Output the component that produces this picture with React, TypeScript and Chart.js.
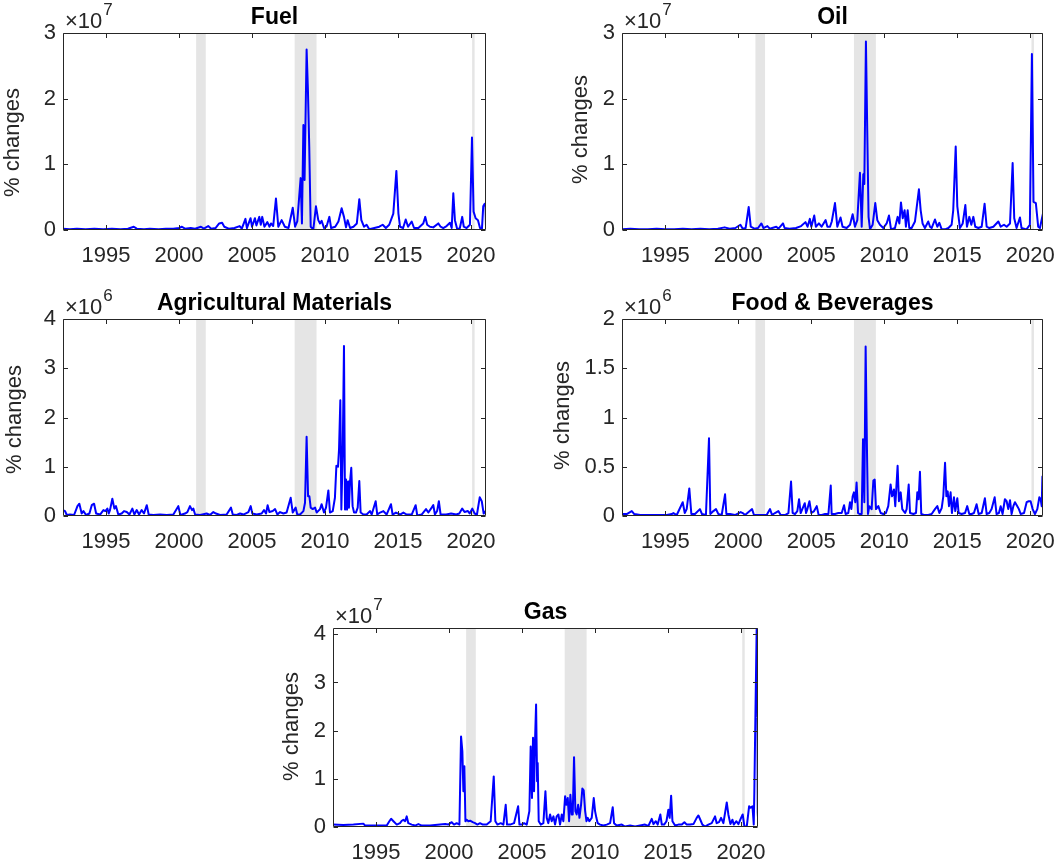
import React, { useEffect, useRef } from "react";
import { Chart, registerables } from "chart.js";

Chart.register(...registerables);

// ---------------- DATA ----------------
const xTickValues = [1995, 2000, 2005, 2010, 2015, 2020];
const recessions: [number, number][] = [
  [2001.17, 2001.83],
  [2007.92, 2009.42],
  [2020.08, 2020.25],
];

// Fuel, values in units of 10^7
const fuelSeries: [number, number][] = [
  [1992.05, 0.02], [1992.5, 0.01], [1993.0, 0.02], [1993.6, 0.01], [1994.2, 0.02], [1994.8, 0.01],
  [1995.4, 0.02], [1996.0, 0.01], [1996.5, 0.02], [1996.9, 0.05], [1997.1, 0.02], [1997.6, 0.01],
  [1998.0, 0.02], [1998.6, 0.01], [1999.1, 0.02], [1999.6, 0.02], [2000.0, 0.03], [2000.2, 0.05],
  [2000.4, 0.02], [2000.8, 0.03], [2001.1, 0.02], [2001.5, 0.05], [2001.7, 0.02], [2002.0, 0.06],
  [2002.2, 0.02], [2002.5, 0.03], [2002.75, 0.1], [2002.95, 0.11], [2003.1, 0.05], [2003.4, 0.02],
  [2003.8, 0.03], [2004.15, 0.06], [2004.3, 0.02], [2004.55, 0.17], [2004.65, 0.03], [2004.9, 0.18],
  [2005.0, 0.05], [2005.2, 0.18], [2005.3, 0.07], [2005.5, 0.2], [2005.6, 0.08], [2005.7, 0.2],
  [2005.85, 0.05], [2006.05, 0.12], [2006.2, 0.05], [2006.3, 0.1], [2006.45, 0.06], [2006.64, 0.48],
  [2006.8, 0.05], [2007.03, 0.15], [2007.25, 0.05], [2007.5, 0.03], [2007.79, 0.34], [2007.95, 0.05],
  [2008.1, 0.13], [2008.33, 0.79], [2008.42, 0.1], [2008.52, 1.6], [2008.6, 0.76], [2008.74, 2.75],
  [2008.83, 2.13], [2008.92, 1.27], [2009.02, 0.05], [2009.2, 0.01], [2009.38, 0.36], [2009.54, 0.15],
  [2009.66, 0.1], [2009.77, 0.14], [2009.93, 0.03], [2010.1, 0.05], [2010.3, 0.2], [2010.42, 0.03],
  [2010.7, 0.05], [2010.92, 0.13], [2011.14, 0.33], [2011.3, 0.2], [2011.44, 0.04], [2011.55, 0.15],
  [2011.72, 0.03], [2011.95, 0.05], [2012.18, 0.1], [2012.35, 0.47], [2012.49, 0.15], [2012.67, 0.05],
  [2012.85, 0.08], [2013.03, 0.01], [2013.38, 0.03], [2013.72, 0.05], [2013.95, 0.08], [2014.17, 0.03],
  [2014.4, 0.08], [2014.68, 0.25], [2014.89, 0.9], [2015.03, 0.25], [2015.14, 0.05], [2015.35, 0.03],
  [2015.53, 0.16], [2015.69, 0.05], [2015.94, 0.13], [2016.1, 0.03], [2016.4, 0.03], [2016.73, 0.1],
  [2016.87, 0.2], [2017.0, 0.08], [2017.19, 0.05], [2017.42, 0.04], [2017.76, 0.1], [2017.92, 0.05],
  [2018.1, 0.03], [2018.33, 0.06], [2018.56, 0.11], [2018.68, 0.03], [2018.79, 0.56], [2018.9, 0.15],
  [2019.06, 0.01], [2019.24, 0.03], [2019.4, 0.2], [2019.51, 0.05], [2019.7, 0.03], [2019.93, 0.08],
  [2020.07, 1.41], [2020.18, 0.28], [2020.32, 0.18], [2020.48, 0.15], [2020.62, 0.03], [2020.75, 0.01],
  [2020.84, 0.36], [2020.94, 0.4], [2021.0, 0.35], [2021.03, 0.05],
];

// Oil, values in units of 10^7
const oilSeries: [number, number][] = [
  [1992.03, 0.01], [1992.6, 0.02], [1993.2, 0.01], [1993.8, 0.01], [1994.4, 0.02], [1995.0, 0.01],
  [1995.6, 0.01], [1996.2, 0.02], [1996.8, 0.01], [1997.4, 0.02], [1998.0, 0.01], [1998.6, 0.02],
  [1999.06, 0.04], [1999.4, 0.02], [1999.8, 0.03], [2000.14, 0.08], [2000.3, 0.02], [2000.5, 0.03],
  [2000.71, 0.35], [2000.85, 0.05], [2001.1, 0.02], [2001.35, 0.03], [2001.58, 0.1], [2001.72, 0.03],
  [2001.99, 0.06], [2002.15, 0.02], [2002.6, 0.05], [2002.75, 0.02], [2003.06, 0.1], [2003.17, 0.03],
  [2003.5, 0.02], [2003.95, 0.03], [2004.3, 0.06], [2004.6, 0.12], [2004.74, 0.05], [2004.9, 0.17],
  [2005.0, 0.05], [2005.2, 0.22], [2005.31, 0.05], [2005.52, 0.1], [2005.7, 0.05], [2005.98, 0.15],
  [2006.1, 0.05], [2006.28, 0.05], [2006.4, 0.13], [2006.62, 0.41], [2006.78, 0.05], [2007.0, 0.19],
  [2007.14, 0.05], [2007.42, 0.03], [2007.65, 0.08], [2007.83, 0.24], [2007.99, 0.05], [2008.15, 0.15],
  [2008.33, 0.87], [2008.45, 0.05], [2008.56, 0.85], [2008.63, 0.7], [2008.74, 2.87], [2008.83, 1.52],
  [2008.92, 0.2], [2009.02, 0.01], [2009.2, 0.08], [2009.38, 0.41], [2009.52, 0.15], [2009.7, 0.08],
  [2009.93, 0.03], [2010.16, 0.1], [2010.32, 0.22], [2010.46, 0.01], [2010.73, 0.03], [2010.91, 0.2],
  [2011.03, 0.1], [2011.14, 0.42], [2011.26, 0.18], [2011.39, 0.3], [2011.48, 0.05], [2011.6, 0.3],
  [2011.71, 0.03], [2011.87, 0.03], [2012.1, 0.13], [2012.37, 0.62], [2012.49, 0.3], [2012.62, 0.1],
  [2012.78, 0.03], [2013.01, 0.13], [2013.13, 0.05], [2013.24, 0.03], [2013.47, 0.16], [2013.63, 0.05],
  [2013.77, 0.11], [2013.93, 0.01], [2014.16, 0.01], [2014.39, 0.03], [2014.61, 0.08], [2014.72, 0.3],
  [2014.89, 1.27], [2015.0, 0.36], [2015.18, 0.03], [2015.37, 0.1], [2015.55, 0.38], [2015.66, 0.05],
  [2015.82, 0.2], [2015.96, 0.08], [2016.1, 0.2], [2016.23, 0.05], [2016.44, 0.03], [2016.67, 0.05],
  [2016.87, 0.4], [2017.01, 0.05], [2017.19, 0.03], [2017.47, 0.05], [2017.81, 0.13], [2017.97, 0.05],
  [2018.2, 0.08], [2018.38, 0.05], [2018.61, 0.1], [2018.79, 1.02], [2018.9, 0.18], [2019.06, 0.03],
  [2019.29, 0.19], [2019.4, 0.03], [2019.74, 0.01], [2019.97, 0.08], [2020.11, 2.68], [2020.22, 0.43],
  [2020.38, 0.41], [2020.54, 0.05], [2020.66, 0.03], [2020.8, 0.18], [2020.87, 0.25],
];

// Agricultural Materials, values in units of 10^6
const agriSeries: [number, number][] = [
  [1992.05, 0.12], [1992.19, 0.1], [1992.31, 0.02], [1992.53, 0.03], [1992.81, 0.02], [1993.04, 0.2],
  [1993.17, 0.25], [1993.33, 0.05], [1993.45, 0.1], [1993.63, 0.02], [1993.86, 0.05], [1994.02, 0.22],
  [1994.18, 0.25], [1994.32, 0.05], [1994.59, 0.03], [1994.82, 0.12], [1994.95, 0.1], [1995.09, 0.15],
  [1995.18, 0.05], [1995.27, 0.12], [1995.43, 0.35], [1995.57, 0.15], [1995.68, 0.2], [1995.84, 0.03],
  [1996.07, 0.05], [1996.23, 0.1], [1996.42, 0.08], [1996.6, 0.03], [1996.8, 0.15], [1996.94, 0.03],
  [1997.1, 0.12], [1997.26, 0.03], [1997.44, 0.12], [1997.6, 0.05], [1997.79, 0.22], [1997.92, 0.03],
  [1998.24, 0.02], [1998.7, 0.03], [1999.16, 0.02], [1999.61, 0.03], [1999.95, 0.2], [2000.09, 0.02],
  [2000.41, 0.05], [2000.57, 0.08], [2000.75, 0.2], [2000.89, 0.12], [2000.98, 0.15], [2001.1, 0.03],
  [2001.44, 0.02], [2001.89, 0.05], [2002.12, 0.02], [2002.35, 0.08], [2002.53, 0.05], [2002.81, 0.02],
  [2003.26, 0.03], [2003.56, 0.17], [2003.68, 0.03], [2003.95, 0.02], [2004.18, 0.05], [2004.41, 0.03],
  [2004.75, 0.08], [2004.91, 0.2], [2005.02, 0.05], [2005.32, 0.03], [2005.66, 0.05], [2005.82, 0.12],
  [2005.96, 0.05], [2006.07, 0.22], [2006.19, 0.08], [2006.42, 0.1], [2006.58, 0.14], [2006.74, 0.03],
  [2006.92, 0.08], [2007.15, 0.05], [2007.37, 0.07], [2007.65, 0.37], [2007.79, 0.07], [2007.99, 0.17],
  [2008.1, 0.03], [2008.29, 0.03], [2008.52, 0.1], [2008.63, 0.27], [2008.74, 1.61], [2008.84, 0.4],
  [2008.93, 0.4], [2009.02, 0.17], [2009.16, 0.14], [2009.32, 0.17], [2009.43, 0.07], [2009.66, 0.14],
  [2009.77, 0.24], [2009.93, 0.07], [2010.07, 0.17], [2010.23, 0.52], [2010.34, 0.07], [2010.53, 0.1],
  [2010.68, 0.37], [2010.78, 1.02], [2010.89, 1.0], [2010.96, 1.35], [2011.05, 2.35], [2011.12, 0.13],
  [2011.21, 1.22], [2011.3, 3.45], [2011.37, 0.13], [2011.44, 0.74], [2011.51, 0.13], [2011.58, 0.7],
  [2011.64, 0.17], [2011.71, 0.68], [2011.8, 0.98], [2011.89, 0.2], [2011.99, 0.07], [2012.12, 0.07],
  [2012.24, 0.17], [2012.35, 0.71], [2012.44, 0.07], [2012.63, 0.03], [2012.85, 0.03], [2013.08, 0.1],
  [2013.2, 0.03], [2013.47, 0.3], [2013.58, 0.03], [2013.77, 0.07], [2014.0, 0.1], [2014.22, 0.03],
  [2014.52, 0.24], [2014.63, 0.03], [2014.86, 0.07], [2015.14, 0.03], [2015.37, 0.07], [2015.59, 0.03],
  [2015.94, 0.03], [2016.21, 0.22], [2016.32, 0.01], [2016.62, 0.03], [2016.92, 0.14], [2017.08, 0.07],
  [2017.31, 0.17], [2017.42, 0.22], [2017.53, 0.03], [2017.68, 0.1], [2017.8, 0.3], [2017.92, 0.03],
  [2018.3, 0.03], [2018.64, 0.05], [2018.99, 0.03], [2019.2, 0.05], [2019.4, 0.15], [2019.56, 0.08],
  [2019.79, 0.1], [2019.91, 0.05], [2020.09, 0.15], [2020.25, 0.05], [2020.41, 0.03], [2020.6, 0.38],
  [2020.74, 0.3], [2020.87, 0.05], [2021.0, 0.1], [2021.03, 0.1],
];

// Food & Beverages, values in units of 10^6
const foodSeries: [number, number][] = [
  [1992.03, 0.02], [1992.35, 0.02], [1992.7, 0.05], [1992.87, 0.02], [1993.28, 0.01], [1993.97, 0.01],
  [1994.65, 0.01], [1995.1, 0.01], [1995.44, 0.02], [1995.55, 0.03], [1995.78, 0.01], [1996.19, 0.14],
  [1996.33, 0.03], [1996.46, 0.07], [1996.64, 0.28], [1996.78, 0.02], [1997.03, 0.02], [1997.37, 0.07],
  [1997.51, 0.02], [1997.78, 0.01], [1997.99, 0.79], [1998.08, 0.02], [1998.29, 0.05], [1998.47, 0.07],
  [1998.63, 0.02], [1998.86, 0.01], [1999.09, 0.22], [1999.18, 0.02], [1999.43, 0.02], [1999.77, 0.01],
  [2000.16, 0.04], [2000.3, 0.03], [2000.46, 0.01], [2000.94, 0.07], [2001.07, 0.01], [2001.49, 0.01],
  [2001.94, 0.01], [2002.17, 0.07], [2002.31, 0.01], [2002.51, 0.03], [2002.74, 0.05], [2002.9, 0.01],
  [2003.2, 0.01], [2003.43, 0.03], [2003.61, 0.35], [2003.72, 0.03], [2003.88, 0.02], [2004.04, 0.05],
  [2004.16, 0.17], [2004.27, 0.03], [2004.41, 0.08], [2004.55, 0.13], [2004.64, 0.03], [2004.73, 0.07],
  [2004.87, 0.15], [2005.0, 0.03], [2005.19, 0.05], [2005.37, 0.1], [2005.5, 0.01], [2005.71, 0.01],
  [2005.94, 0.02], [2006.17, 0.02], [2006.33, 0.31], [2006.39, 0.02], [2006.62, 0.02], [2006.85, 0.03],
  [2007.08, 0.03], [2007.24, 0.11], [2007.35, 0.02], [2007.53, 0.03], [2007.65, 0.14], [2007.74, 0.07],
  [2007.83, 0.2], [2007.92, 0.24], [2008.01, 0.14], [2008.1, 0.34], [2008.2, 0.03], [2008.33, 0.02],
  [2008.45, 0.02], [2008.54, 0.78], [2008.63, 0.14], [2008.72, 1.72], [2008.81, 0.68], [2008.88, 0.02],
  [2008.97, 0.1], [2009.13, 0.07], [2009.25, 0.36], [2009.34, 0.37], [2009.43, 0.07], [2009.59, 0.1],
  [2009.75, 0.03], [2009.93, 0.02], [2010.11, 0.03], [2010.27, 0.1], [2010.43, 0.32], [2010.53, 0.2],
  [2010.66, 0.27], [2010.75, 0.1], [2010.91, 0.51], [2011.0, 0.15], [2011.12, 0.24], [2011.23, 0.07],
  [2011.42, 0.03], [2011.53, 0.07], [2011.67, 0.32], [2011.76, 0.03], [2011.99, 0.02], [2012.17, 0.03],
  [2012.26, 0.24], [2012.35, 0.17], [2012.44, 0.45], [2012.53, 0.02], [2012.72, 0.01], [2013.01, 0.01],
  [2013.24, 0.02], [2013.47, 0.07], [2013.63, 0.1], [2013.77, 0.03], [2013.93, 0.08], [2014.04, 0.2],
  [2014.16, 0.54], [2014.25, 0.2], [2014.34, 0.25], [2014.43, 0.1], [2014.54, 0.24], [2014.63, 0.03],
  [2014.77, 0.19], [2014.86, 0.05], [2015.0, 0.18], [2015.09, 0.03], [2015.3, 0.02], [2015.53, 0.03],
  [2015.68, 0.1], [2015.82, 0.02], [2015.98, 0.02], [2016.14, 0.03], [2016.32, 0.12], [2016.46, 0.02],
  [2016.67, 0.03], [2016.89, 0.18], [2017.01, 0.02], [2017.19, 0.03], [2017.35, 0.07], [2017.56, 0.19],
  [2017.69, 0.02], [2017.85, 0.03], [2017.97, 0.1], [2018.1, 0.02], [2018.26, 0.17], [2018.38, 0.15],
  [2018.49, 0.07], [2018.61, 0.16], [2018.72, 0.02], [2018.84, 0.1], [2018.95, 0.14], [2019.11, 0.1],
  [2019.22, 0.07], [2019.34, 0.02], [2019.57, 0.03], [2019.75, 0.14], [2019.89, 0.15], [2020.02, 0.15],
  [2020.16, 0.07], [2020.32, 0.02], [2020.48, 0.07], [2020.62, 0.19], [2020.71, 0.17], [2020.78, 0.1],
  [2020.83, 0.4], [2020.87, 0.1],
];

// Gas, values in units of 10^7
const gasSeries: [number, number][] = [
  [1992.05, 0.05], [1992.76, 0.04], [1993.45, 0.05], [1994.13, 0.07], [1994.25, 0.03], [1995.05, 0.03],
  [1995.73, 0.03], [1995.91, 0.12], [1996.03, 0.17], [1996.19, 0.12], [1996.42, 0.05], [1996.64, 0.08],
  [1996.76, 0.13], [1996.87, 0.15], [1996.99, 0.12], [1997.1, 0.22], [1997.21, 0.08], [1997.44, 0.05],
  [1997.67, 0.03], [1997.9, 0.06], [1998.13, 0.03], [1998.7, 0.03], [1999.38, 0.05], [1999.73, 0.06],
  [1999.95, 0.05], [2000.18, 0.1], [2000.34, 0.05], [2000.52, 0.08], [2000.71, 0.05], [2000.82, 1.88],
  [2000.91, 1.57], [2000.98, 0.74], [2001.05, 1.26], [2001.12, 0.12], [2001.21, 0.15], [2001.32, 0.12],
  [2001.44, 0.13], [2001.62, 0.1], [2001.78, 0.08], [2001.94, 0.05], [2002.12, 0.08], [2002.31, 0.05],
  [2002.58, 0.05], [2002.85, 0.12], [2003.06, 1.05], [2003.17, 0.12], [2003.31, 0.05], [2003.54, 0.08],
  [2003.72, 0.05], [2003.88, 0.46], [2003.97, 0.05], [2004.18, 0.05], [2004.45, 0.08], [2004.73, 0.43],
  [2004.82, 0.05], [2004.98, 0.05], [2005.14, 0.08], [2005.32, 0.05], [2005.5, 0.33], [2005.59, 1.67],
  [2005.68, 0.6], [2005.75, 1.85], [2005.82, 0.74], [2005.89, 1.81], [2005.96, 2.54], [2006.03, 0.95],
  [2006.07, 1.33], [2006.14, 0.12], [2006.28, 0.05], [2006.46, 0.08], [2006.6, 0.74], [2006.69, 0.19],
  [2006.8, 0.08], [2006.92, 0.26], [2007.03, 0.12], [2007.15, 0.22], [2007.26, 0.05], [2007.37, 0.22],
  [2007.49, 0.26], [2007.6, 0.05], [2007.72, 0.26], [2007.83, 0.12], [2007.95, 0.64], [2008.04, 0.46],
  [2008.13, 0.6], [2008.22, 0.12], [2008.31, 0.67], [2008.4, 0.26], [2008.47, 0.26], [2008.56, 1.45],
  [2008.65, 0.33], [2008.74, 0.26], [2008.84, 0.46], [2008.93, 0.19], [2009.04, 0.46], [2009.13, 0.8],
  [2009.22, 0.76], [2009.32, 0.33], [2009.41, 0.12], [2009.5, 0.19], [2009.61, 0.12], [2009.77, 0.19],
  [2009.91, 0.6], [2010.0, 0.33], [2010.09, 0.19], [2010.18, 0.08], [2010.34, 0.05], [2010.57, 0.03],
  [2010.8, 0.05], [2011.03, 0.08], [2011.21, 0.41], [2011.3, 0.08], [2011.48, 0.03], [2011.83, 0.05],
  [2012.05, 0.01], [2012.4, 0.03], [2012.74, 0.01], [2013.08, 0.03], [2013.42, 0.05], [2013.65, 0.02],
  [2013.88, 0.17], [2014.0, 0.06], [2014.16, 0.12], [2014.29, 0.05], [2014.47, 0.26], [2014.57, 0.05],
  [2014.73, 0.05], [2014.89, 0.12], [2015.02, 0.36], [2015.11, 0.19], [2015.21, 0.65], [2015.3, 0.12],
  [2015.48, 0.03], [2015.71, 0.05], [2015.94, 0.05], [2016.12, 0.1], [2016.28, 0.05], [2016.51, 0.05],
  [2016.74, 0.06], [2016.96, 0.19], [2017.08, 0.24], [2017.21, 0.15], [2017.35, 0.05], [2017.53, 0.01],
  [2017.76, 0.05], [2017.99, 0.08], [2018.22, 0.22], [2018.33, 0.08], [2018.49, 0.1], [2018.63, 0.19],
  [2018.79, 0.08], [2019.02, 0.51], [2019.13, 0.26], [2019.27, 0.06], [2019.41, 0.15], [2019.5, 0.05],
  [2019.68, 0.12], [2019.82, 0.06], [2020.0, 0.19], [2020.11, 0.26], [2020.23, 0.01], [2020.39, 0.01],
  [2020.55, 0.43], [2020.64, 0.4], [2020.78, 0.43], [2020.87, 0.05], [2020.91, 0.74], [2020.98, 2.26],
  [2021.07, 4.13], [2021.11, 4.0], [2021.14, 0.3], [2021.16, 0.2],
];

const fuelYTicks = [0, 1, 2, 3];
const fuelYLabels = ["0", "1", "2", "3"];
const oilYTicks = [0, 1, 2, 3];
const oilYLabels = ["0", "1", "2", "3"];
const agriYTicks = [0, 1, 2, 3, 4];
const agriYLabels = ["0", "1", "2", "3", "4"];
const foodYTicks = [0, 0.5, 1, 1.5, 2];
const foodYLabels = ["0", "0.5", "1", "1.5", "2"];
const gasYTicks = [0, 1, 2, 3, 4];
const gasYLabels = ["0", "1", "2", "3", "4"];

const titles = ["Fuel", "Oil", "Agricultural Materials", "Food & Beverages", "Gas"];
const exponents = ["7", "7", "6", "6", "7"];
const yLabelText = "% changes";

// ---------------- PANELS ----------------
type Spec = {
  title: string;
  exponent: string;
  series: [number, number][];
  yTicks: number[];
  yLabels: string[];
  yMax: number;
  xMin: number;
  xMax: number;
};

const specs: Spec[] = [
  { title: titles[0], exponent: exponents[0], series: fuelSeries, yTicks: fuelYTicks, yLabels: fuelYLabels, yMax: 3, xMin: 1992.05, xMax: 2021.03 },
  { title: titles[1], exponent: exponents[1], series: oilSeries, yTicks: oilYTicks, yLabels: oilYLabels, yMax: 3, xMin: 1992.03, xMax: 2020.87 },
  { title: titles[2], exponent: exponents[2], series: agriSeries, yTicks: agriYTicks, yLabels: agriYLabels, yMax: 4, xMin: 1992.05, xMax: 2021.03 },
  { title: titles[3], exponent: exponents[3], series: foodSeries, yTicks: foodYTicks, yLabels: foodYLabels, yMax: 2, xMin: 1992.03, xMax: 2020.87 },
  { title: titles[4], exponent: exponents[4], series: gasSeries, yTicks: gasYTicks, yLabels: gasYLabels, yMax: 4.13, xMin: 1992.05, xMax: 2021.16 },
];

// plot-area boxes in page pixels, and y-label offsets relative to the plot
type Box = { left: number; top: number; width: number; height: number; ylDx: number; ylDy: number };
const boxes: Box[] = [
  { left: 63, top: 33, width: 423, height: 197, ylDx: -50, ylDy: 11 },
  { left: 622, top: 33, width: 421, height: 197, ylDx: -41, ylDy: -2 },
  { left: 63, top: 319, width: 423, height: 197, ylDx: -48, ylDy: 2 },
  { left: 622, top: 319, width: 421, height: 197, ylDx: -59, ylDy: -2 },
  { left: 333, top: 628, width: 425, height: 199, ylDx: -41, ylDy: -1 },
];

const FONT = "'Liberation Sans', Arial, Helvetica, sans-serif";
const AXIS_COLOR = "#262626";
const TICK_SIZE = 22;
const LABEL_SIZE = 22;
const TITLE_SIZE = 23;

const M_LEFT = 72;
const M_TOP = 36;
const M_RIGHT = 30;
const M_BOTTOM = 42;

function makeDecor(spec: Spec, box: Box) {
  return {
    id: "matlabDecor",
    beforeDatasetsDraw(chart: any) {
      const { ctx, chartArea } = chart;
      const xs = chart.scales.x;
      ctx.save();
      ctx.fillStyle = "#e5e5e5";
      for (const [s, e] of recessions) {
        const x1 = Math.max(chartArea.left, xs.getPixelForValue(s));
        const x2 = Math.min(chartArea.right, xs.getPixelForValue(e));
        if (x2 > x1) ctx.fillRect(x1, chartArea.top, x2 - x1, chartArea.bottom - chartArea.top);
      }
      ctx.restore();
    },
    afterDatasetsDraw(chart: any) {
      const { ctx, chartArea } = chart;
      const xs = chart.scales.x;
      const ys = chart.scales.y;
      const L = Math.round(chartArea.left) + 0.5;
      const R = Math.round(chartArea.right) - 0.5;
      const T = Math.round(chartArea.top) + 0.5;
      const B = Math.round(chartArea.bottom) - 0.5;
      ctx.save();
      ctx.strokeStyle = AXIS_COLOR;
      ctx.lineWidth = 1;
      ctx.beginPath();
      ctx.rect(L, T, R - L, B - T);
      const tl = 4.5;
      for (const v of xTickValues) {
        const px = Math.round(xs.getPixelForValue(v)) + 0.5;
        ctx.moveTo(px, B);
        ctx.lineTo(px, B - tl);
        ctx.moveTo(px, T);
        ctx.lineTo(px, T + tl);
      }
      for (const v of spec.yTicks) {
        const py = Math.round(ys.getPixelForValue(v)) + 0.5;
        ctx.moveTo(L, py);
        ctx.lineTo(L + tl, py);
        ctx.moveTo(R, py);
        ctx.lineTo(R - tl, py);
      }
      ctx.stroke();
      ctx.restore();
    },
    afterDraw(chart: any) {
      const { ctx, chartArea } = chart;
      ctx.save();
      // title
      ctx.fillStyle = "#000";
      ctx.font = `bold ${TITLE_SIZE}px ${FONT}`;
      ctx.textAlign = "center";
      ctx.textBaseline = "alphabetic";
      ctx.fillText(spec.title, (chartArea.left + chartArea.right) / 2, chartArea.top - 9.5);
      // exponent
      ctx.fillStyle = AXIS_COLOR;
      ctx.textAlign = "left";
      ctx.font = `${22}px ${FONT}`;
      const base = "\u00d710";
      const x0 = chartArea.left + 2;
      ctx.fillText(base, x0, chartArea.top - 5);
      const w = ctx.measureText(base).width;
      ctx.font = `${17}px ${FONT}`;
      ctx.fillText(spec.exponent, x0 + w + 1, chartArea.top - 18);
      // y label
      ctx.font = `${LABEL_SIZE}px ${FONT}`;
      ctx.textAlign = "center";
      ctx.textBaseline = "middle";
      ctx.translate(chartArea.left + box.ylDx, (chartArea.top + chartArea.bottom) / 2 + box.ylDy);
      ctx.rotate(-Math.PI / 2);
      ctx.fillText(yLabelText, 0, 0);
      ctx.restore();
    },
  };
}

function Panel({ spec, box }: { spec: Spec; box: Box }) {
  const ref = useRef<HTMLCanvasElement | null>(null);
  const mLeft = Math.min(M_LEFT, box.left);
  const mTop = Math.min(M_TOP, box.top);
  const cw = box.width + mLeft + M_RIGHT;
  const ch = box.height + mTop + M_BOTTOM;

  useEffect(() => {
    if (!ref.current) return;
    const chart = new Chart(ref.current, {
      type: "line",
      data: {
        datasets: [
          {
            data: spec.series.map(([x, y]) => ({ x, y })),
            borderColor: "#0000ff",
            borderWidth: 2,
            borderJoinStyle: "round",
            borderCapStyle: "round",
            pointRadius: 0,
            pointHoverRadius: 0,
            tension: 0,
            fill: false,
          } as any,
        ],
      },
      options: {
        animation: false,
        responsive: false,
        devicePixelRatio: 1,
        events: [],
        layout: { padding: { left: 0, top: mTop, right: M_RIGHT, bottom: 0 } },
        plugins: { legend: { display: false }, tooltip: { enabled: false }, title: { display: false } },
        scales: {
          x: {
            type: "linear",
            position: "bottom",
            min: spec.xMin,
            max: spec.xMax,
            grid: { display: false, drawTicks: false },
            border: { display: false },
            afterBuildTicks: (scale: any) => {
              scale.ticks = xTickValues.map((v) => ({ value: v }));
            },
            afterFit: (scale: any) => {
              scale.height = M_BOTTOM;
            },
            ticks: {
              autoSkip: false,
              maxRotation: 0,
              minRotation: 0,
              padding: 13,
              color: AXIS_COLOR,
              font: { family: FONT, size: TICK_SIZE },
              callback: (v: any) => String(v),
            },
          },
          y: {
            type: "linear",
            position: "left",
            min: 0,
            max: spec.yMax,
            grid: { display: false, drawTicks: false },
            border: { display: false },
            afterBuildTicks: (scale: any) => {
              scale.ticks = spec.yTicks.map((v) => ({ value: v }));
            },
            afterFit: (scale: any) => {
              scale.width = mLeft;
            },
            ticks: {
              autoSkip: false,
              padding: 7,
              color: AXIS_COLOR,
              font: { family: FONT, size: TICK_SIZE },
              callback: (v: any) => {
                const i = spec.yTicks.indexOf(Number(v));
                return i >= 0 ? spec.yLabels[i] : "";
              },
            },
          },
        },
      },
      plugins: [makeDecor(spec, box)],
    } as any);
    return () => chart.destroy();
  }, []);

  return (
    <canvas
      ref={ref}
      width={cw}
      height={ch}
      style={{ position: "absolute", left: box.left - mLeft, top: box.top - mTop, width: cw, height: ch }}
    />
  );
}

export default function App() {
  return (
    <div
      style={{
        position: "absolute",
        left: 0,
        top: 0,
        width: 1056,
        height: 862,
        background: "#ffffff",
        overflow: "hidden",
      }}
    >
      {specs.map((s, i) => (
        <Panel key={s.title} spec={s} box={boxes[i]} />
      ))}
    </div>
  );
}
